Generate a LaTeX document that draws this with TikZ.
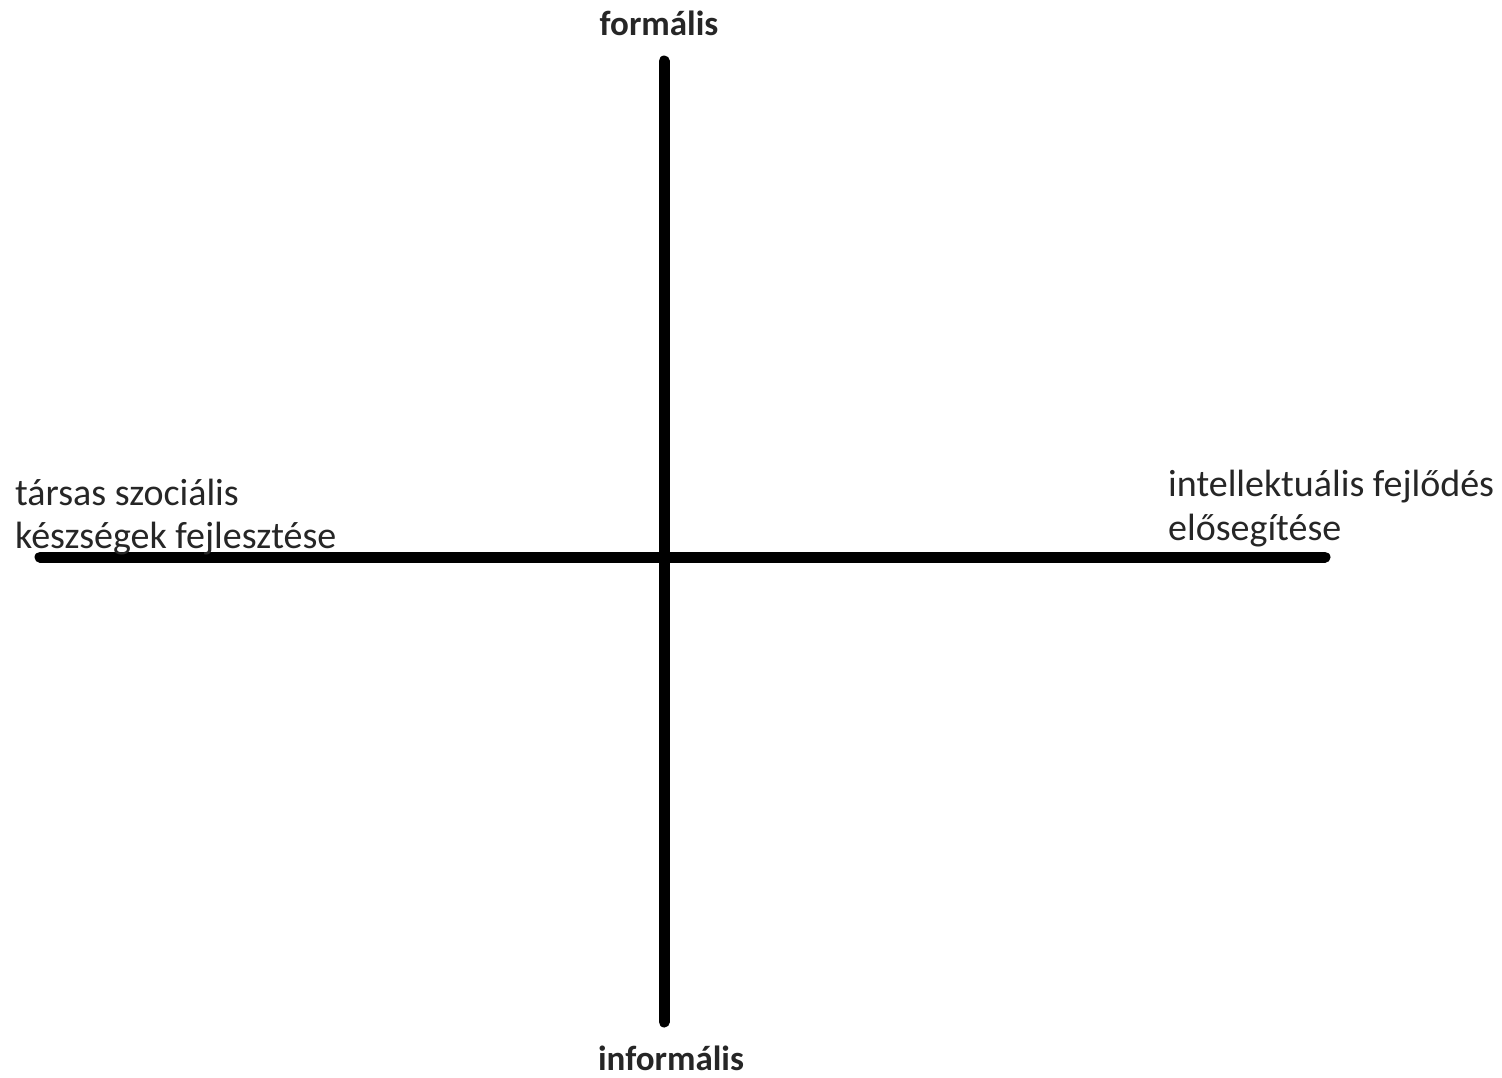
\documentclass[tikz,border=0pt]{standalone}
\usepackage{fontspec}
\setmainfont{Carlito}
\definecolor{txt}{HTML}{262626}
\begin{document}
\begin{tikzpicture}[x=1pt,y=-1pt,
  axisline/.style={line width=11pt,line cap=round,black},
  lbl/.style={inner sep=0pt,anchor=base west,text=txt,font=\fontsize{38}{44}\selectfont,align=left},
  blbl/.style={inner sep=0pt,anchor=base,text=txt,font=\fontsize{35}{42}\selectfont\bfseries}]
\useasboundingbox (0,0) rectangle (1502,1077);
\coordinate (L) at (40,557);
\coordinate (R) at (1325,557);
\coordinate (T) at (664,61);
\coordinate (B) at (664,1022);
\draw[axisline] (L) -- (R);
\draw[axisline] (T) -- (B);
\node[blbl] (top) at (659,35) {formális};
\node[blbl] (bot) at (671,1070) {informális};
\node[lbl] (left1) at (15,505) {társas szociális};
\node[lbl] (left2) at (15,548) {készségek fejlesztése};
\node[lbl] (right1) at (1168,496) {intellektuális fejlődés};
\node[lbl] (right2) at (1168,540) {elősegítése};
\end{tikzpicture}
\end{document}
